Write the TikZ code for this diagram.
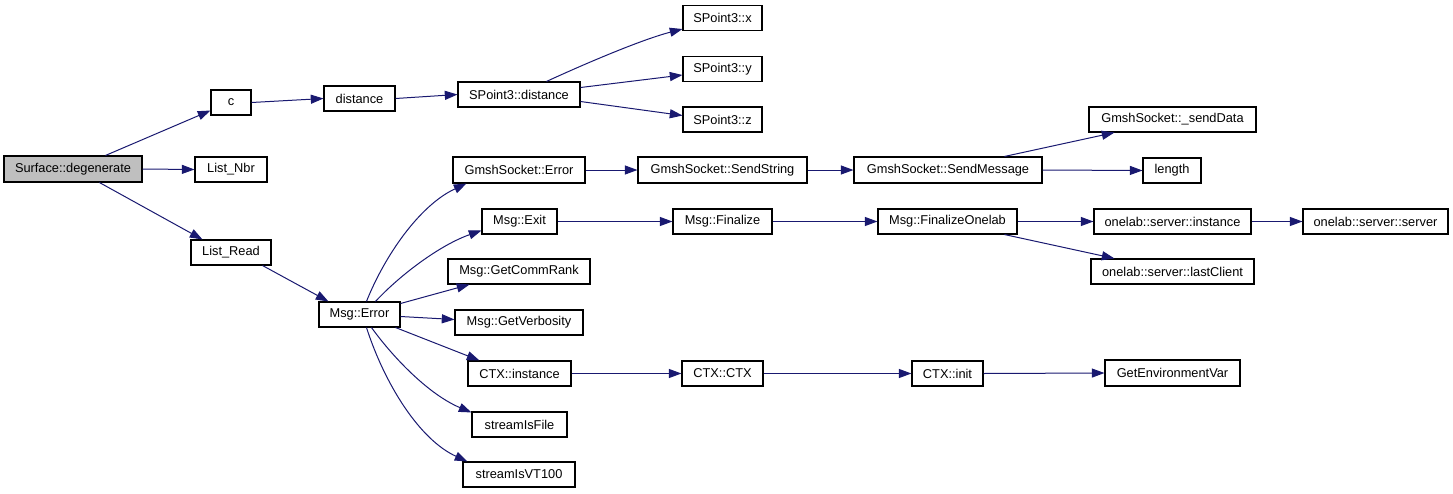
\documentclass[tikz,border=0pt]{standalone}
\usepackage{fontspec}
\setmainfont{Liberation Sans}
\usetikzlibrary{arrows.meta,calc}
\definecolor{edgeblue}{HTML}{191970}
\definecolor{hilite}{HTML}{BFBFBF}
\begin{document}
\begin{tikzpicture}[x=0.75pt,y=-0.75pt,
  box/.style 2 args={draw=black, line width=0.8pt, fill=white, inner sep=0pt,
     minimum width=#1*0.75pt, minimum height=#2*0.75pt,
     font=\fontsize{9.6}{11}\selectfont},
  edge/.style={draw=edgeblue, line width=0.75pt,
     -{Triangle[length=9.5pt,width=6.8pt,fill=edgeblue]}}]
\useasboundingbox (0,0) rectangle (1453,493);
% column 1
\node[box={138}{26}, fill=hilite] (deg) at (73,169) {Surface::degenerate};
% column 2
\node[box={40}{25}] (c) at (231,102.5) {c};
\node[box={72}{25}] (nbr) at (231,169.5) {List\_Nbr};
\node[box={80}{25}] (lread) at (231,252.5) {List\_Read};
% column 3
\node[box={71}{25}] (dist) at (359.5,98.5) {distance};
\node[box={81}{25}] (merr) at (359.5,314.5) {Msg::Error};
% column 4
\node[box={122}{25}] (spd) at (519,94.5) {SPoint3::distance};
\node[box={132}{26}] (gse) at (519,170) {GmshSocket::Error};
\node[box={75}{25}] (mexit) at (519.5,221.5) {Msg::Exit};
\node[box={142}{25}] (mgcr) at (519,271.5) {Msg::GetCommRank};
\node[box={128}{25}] (mgv) at (519,322.5) {Msg::GetVerbosity};
\node[box={103}{25}] (ctxi) at (519.5,373.5) {CTX::instance};
\node[box={95}{25}] (sif) at (519.5,424.5) {streamIsFile};
\node[box={112}{25}] (svt) at (519,474.5) {streamIsVT100};
% column 5
\node[box={79}{25}] (spx) at (722.5,18) {SPoint3::x};
\node[box={79}{25}] (spy) at (722.5,69) {SPoint3::y};
\node[box={79}{25}] (spz) at (722.5,119.5) {SPoint3::z};
\node[box={169}{26}] (gss) at (722.5,170) {GmshSocket::SendString};
\node[box={99}{25}] (mfin) at (722.5,221.5) {Msg::Finalize};
\node[box={81}{25}] (ctxc) at (722.5,373.5) {CTX::CTX};
% column 6
\node[box={188}{26}] (gsm) at (948,170) {GmshSocket::SendMessage};
\node[box={139}{25}] (mfo) at (947.5,221.5) {Msg::FinalizeOnelab};
\node[box={71}{25}] (ctxinit) at (947.5,373.5) {CTX::init};
% column 7
\node[box={167}{25}] (sd) at (1172.5,119.5) {GmshSocket::\_sendData};
\node[box={58}{25}] (len) at (1172,170.5) {length};
\node[box={157}{25}] (osi) at (1172.5,221.5) {onelab::server::instance};
\node[box={163}{25}] (olc) at (1172.5,271.5) {onelab::server::lastClient};
\node[box={135}{26}] (gev) at (1172.5,373) {GetEnvironmentVar};
% column 8
\node[box={145}{25}] (oss) at (1375.5,221.5) {onelab::server::server};

% edges
\draw[edge] ($(deg.north west)+(102,0)$) -- ($(c.south west)+(0,-5)$);
\draw[edge] (deg.east) -- (nbr.west);
\draw[edge] ($(deg.south west)+(96,0)$) -- ($(lread.north west)+(12,0)$);
\draw[edge] (c.east) -- (dist.west);
\draw[edge] (dist.east) -- (spd.west);
\draw[edge] ($(spd.north west)+(89,0)$) .. controls (580,66) and (640,40) .. ($(spx.south west)+(0,-2)$);
\draw[edge] ($(spd.east)+(0,-7)$) -- ($(spy.west)+(0,6)$);
\draw[edge] ($(spd.east)+(0,7)$) -- ($(spz.west)+(0,-4)$);
\draw[edge] ($(lread.south east)+(-9,0)$) -- ($(merr.north west)+(10,0)$);
\draw[edge] ($(merr.north west)+(48,0)$) .. controls (385,255) and (420,205) .. ($(gse.south west)+(14,0)$);
\draw[edge] ($(merr.north west)+(57,0)$) .. controls (400,275) and (440,245) .. ($(mexit.west)+(0,9)$);
\draw[edge] ($(merr.east)+(0,-11)$) -- ($(mgcr.south west)+(22,0)$);
\draw[edge] ($(merr.east)+(0,2)$) -- ($(mgv.west)+(0,-3)$);
\draw[edge] ($(merr.south east)+(-5,0)$) -- ($(ctxi.north west)+(12,0)$);
\draw[edge] ($(merr.south west)+(53,0)$) .. controls (395,360) and (430,395) .. ($(sif.north west)+(0,1)$);
\draw[edge] ($(merr.south west)+(48,0)$) .. controls (385,385) and (420,440) .. ($(svt.north west)+(5,0)$);
\draw[edge] (gse.east) -- (gss.west);
\draw[edge] (gss.east) -- (gsm.west);
\draw[edge] ($(gsm.north west)+(151,0)$) -- ($(sd.south west)+(26,0)$);
\draw[edge] (gsm.east) -- (len.west);
\draw[edge] (mexit.east) -- (mfin.west);
\draw[edge] (mfin.east) -- (mfo.west);
\draw[edge] (mfo.east) -- (osi.west);
\draw[edge] ($(mfo.south west)+(127,0)$) -- ($(olc.north west)+(24,0)$);
\draw[edge] (osi.east) -- (oss.west);
\draw[edge] (ctxi.east) -- (ctxc.west);
\draw[edge] (ctxc.east) -- (ctxinit.west);
\draw[edge] (ctxinit.east) -- (gev.west);
\end{tikzpicture}
\end{document}
